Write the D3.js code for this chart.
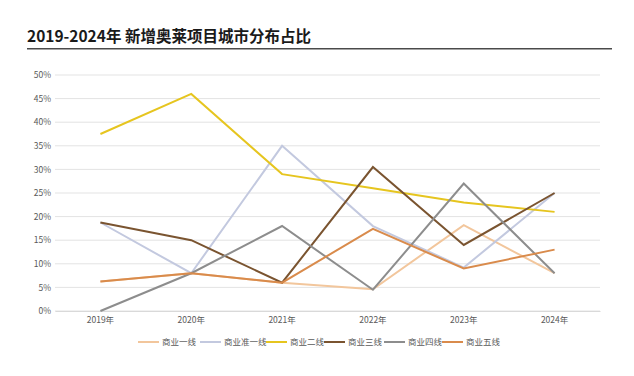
<!DOCTYPE html>
<html><head><meta charset="utf-8">
<script src="https://cdn.jsdelivr.net/npm/d3@7"></script>
<style>body{margin:0;background:#fff}svg{display:block}</style>
</head><body>
<svg id="c" width="634" height="376"></svg>
<script>
const years = ["2019年","2020年","2021年","2022年","2023年","2024年"];
const seriesNames = ["商业一线","商业准一线","商业二线","商业三线","商业四线","商业五线"];
const tier1 = [6.25, 8, 6, 4.6, 18.2, 8];
const tier1b = [18.75, 8, 35, 18, 9.2, 25];
const tier2 = [37.5, 46, 29, 26, 23, 21];
const tier3 = [18.75, 15, 6, 30.5, 14, 25];
const tier4 = [0, 8, 18, 4.5, 27, 8];
const tier5 = [6.25, 8, 6, 17.4, 9, 13];
const yTicks = [0,5,10,15,20,25,30,35,40,45,50];
const colors = ["#f2c69c","#c3c9df","#e6c51f","#7a5430","#8d8d8d","#d98b4c"];
const allSeries = [tier1, tier1b, tier2, tier3, tier4, tier5];

const svg = d3.select("#c");
const font = "'Noto Sans CJK SC','Noto Sans',sans-serif";

svg.append("text").attr("x",27).attr("y",42).attr("font-family",font)
  .attr("font-weight",700).attr("font-size",15.5).attr("fill","#1a1a1a")
  .text("2019-2024年 新增奥莱项目城市分布占比");
svg.append("line").attr("x1",27).attr("x2",612).attr("y1",48.7).attr("y2",48.7)
  .attr("stroke","#4a4a4a").attr("stroke-width",1.5);

const x = d3.scaleBand().domain(years).range([55,600]);
const y = d3.scaleLinear().domain([0,50]).range([311,75]);

const grid = svg.append("g");
grid.selectAll("line").data(yTicks).join("line")
  .attr("x1",55).attr("x2",600).attr("y1",d=>y(d)).attr("y2",d=>y(d))
  .attr("stroke","#e3e3e3").attr("stroke-width",1);

const yAxis = svg.append("g").attr("transform","translate(55,0)")
  .call(d3.axisLeft(y).tickValues(yTicks).tickFormat(d=>d+"%").tickSize(0).tickPadding(4));
yAxis.select(".domain").remove();
yAxis.selectAll("text").attr("font-family",font).attr("font-size",8.5).attr("fill","#595959");

const xAxis = svg.append("g").attr("transform","translate(0,311)")
  .call(d3.axisBottom(x).tickSize(0).tickPadding(6));
xAxis.select(".domain").attr("stroke","#d9d9d9");
xAxis.selectAll("text").attr("font-family",font).attr("font-size",8.5).attr("fill","#595959");

const line = d3.line().x((d,i)=>x(years[i])+x.bandwidth()/2).y(d=>y(d));
allSeries.forEach((s,k)=>{
  svg.append("path").datum(s).attr("d",line).attr("fill","none")
    .attr("stroke",colors[k]).attr("stroke-width",2).attr("stroke-linejoin","miter");
});

// legend
const legX = [138,200,266,324,384,442];
const lg = svg.append("g");
seriesNames.forEach((n,k)=>{
  lg.append("line").attr("x1",legX[k]).attr("x2",legX[k]+21).attr("y1",342).attr("y2",342)
    .attr("stroke",colors[k]).attr("stroke-width",2);
  lg.append("text").attr("x",legX[k]+24).attr("y",345).attr("font-family",font)
    .attr("font-size",8.5).attr("fill","#595959").text(n);
});
</script>
</body></html>
